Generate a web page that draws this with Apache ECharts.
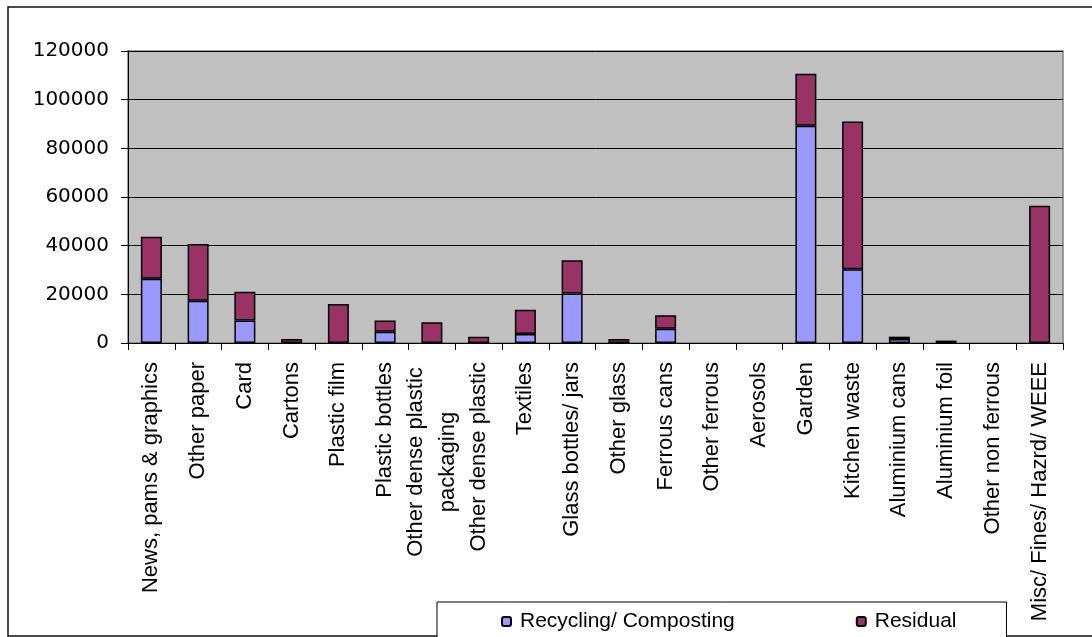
<!DOCTYPE html>
<html>
<head>
<meta charset="UTF-8">
<title>Waste composition</title>
<script type="text/javascript" src="https://cdn.jsdelivr.net/npm/echarts@6/dist/echarts.min.js"></script>
<style>
  html, body { margin: 0; padding: 0; background: #fff; }
</style>
</head>
<body>
<div id="main" style="width:1092px;height:637px;"></div>
<script type="text/javascript">
// categories and values
var categories = ['News, pams & graphics', 'Other paper', 'Card', 'Cartons', 'Plastic film',
  'Plastic bottles', 'Other dense plastic packaging', 'Other dense plastic', 'Textiles',
  'Glass bottles/ jars', 'Other glass', 'Ferrous cans', 'Other ferrous', 'Aerosols',
  'Garden', 'Kitchen waste', 'Aluminium cans', 'Aluminium foil', 'Other non ferrous',
  'Misc/ Fines/ Hazrd/ WEEE'];
var recycling = [26400, 17400, 9200, 0, 0, 4600, 0, 0, 3700, 20300, 0, 5900, 0, 0,
  89300, 30300, 1600, 300, 0, 0];
var residual = [17300, 23300, 11900, 1600, 16000, 4600, 8500, 2600, 10000, 13700, 1600, 5500, 0, 0,
  21300, 60700, 1000, 700, 0, 56400];
var yTicks = [0, 20000, 40000, 60000, 80000, 100000, 120000];

var myChart = echarts.init(document.getElementById('main'));

var barBorder = { borderColor: '#000', borderWidth: 1.5 };

// empty cells draw nothing (no border line on the axis)
function blanks(arr) {
  return arr.map(function (v) { return v === 0 ? '-' : v; });
}

var labelFont = { fontFamily: 'Liberation Sans', fontSize: 22, color: '#000' };

myChart.setOption({
  animation: false,
  backgroundColor: '#fff',
  graphic: [{
    type: 'rect',
    shape: { x: 8, y: 7, width: 1100, height: 629 },
    style: { fill: null, stroke: '#111', lineWidth: 1.5 },
    z: 0
  }],
  grid: {
    left: 128, right: 29, top: 51, bottom: 294,
    show: true,
    backgroundColor: '#c0c0c0',
    borderColor: '#808080',
    borderWidth: 1.5
  },
  legend: {
    left: 437, top: 602,
    padding: [9, 50, 12, 64],
    itemGap: 121,
    itemWidth: 9, itemHeight: 9,
    backgroundColor: '#fff',
    borderColor: '#000', borderWidth: 1,
    textStyle: { fontFamily: 'Liberation Sans', fontSize: 21, color: '#000', padding: [0, 0, 0, 4] },
    data: ['Recycling/ Composting', 'Residual']
  },
  xAxis: {
    type: 'category',
    data: categories,
    axisLine: { lineStyle: { color: '#000', width: 1 } },
    axisTick: { show: true, length: 7, interval: 0, lineStyle: { color: '#000' } },
    axisLabel: Object.assign({
      interval: 0, rotate: 90, margin: 19,
      formatter: function (v) {
        if (v === 'Other dense plastic packaging') {
          return '{c|Other dense plastic}\n{c|packaging}';
        }
        return v;
      },
      rich: {
        c: Object.assign({ width: 200, align: 'center', lineHeight: 32 }, labelFont)
      }
    }, labelFont)
  },
  yAxis: {
    type: 'value',
    min: yTicks[0], max: yTicks[yTicks.length - 1], interval: 20000,
    axisLine: { show: true, lineStyle: { color: '#000', width: 1 } },
    axisTick: { show: true, length: 7, lineStyle: { color: '#000' } },
    splitLine: { lineStyle: { color: '#000', width: 1 } },
    axisLabel: {
      margin: 19, fontFamily: 'DejaVu Sans', fontSize: 20, color: '#000',
      formatter: function (v) { return String(v); }
    }
  },
  series: [{
    name: 'Recycling/ Composting',
    type: 'bar',
    stack: 'total',
    barWidth: 21,
    itemStyle: Object.assign({ color: '#9999ff' }, barBorder),
    data: blanks(recycling)
  }, {
    name: 'Residual',
    type: 'bar',
    stack: 'total',
    barWidth: 21,
    itemStyle: Object.assign({ color: '#993366' }, barBorder),
    data: blanks(residual)
  }]
});
</script>
</body>
</html>
